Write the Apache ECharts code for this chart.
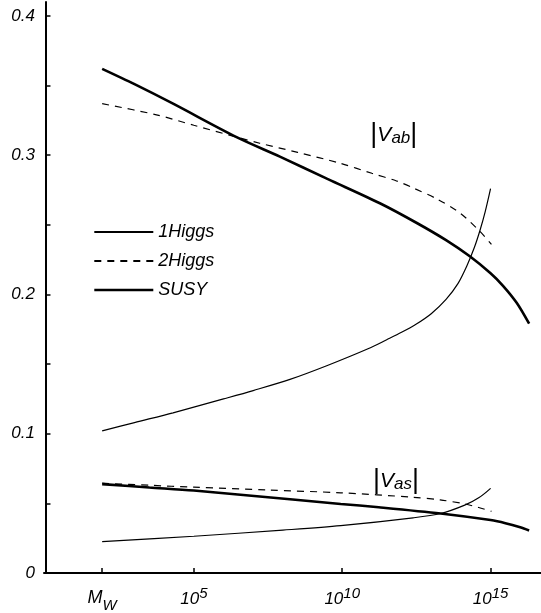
<!DOCTYPE html>
<html>
<head>
<meta charset="utf-8">
<script src="https://cdn.jsdelivr.net/npm/echarts@6/dist/echarts.min.js"></script>
<style>
  html, body { margin: 0; padding: 0; background: #fff; }
  #chart { width: 541px; height: 613px; }
</style>
</head>
<body>
<div id="chart"></div>
<script>
// x values are log10(energy / GeV); M_W ~ 10^1.91
const xTicks = [1.91, 5, 10, 15];
const yMinorTicks = [0, 0.05, 0.1, 0.15, 0.2, 0.25, 0.3, 0.35, 0.4];
const yLabels = [0, 0.1, 0.2, 0.3, 0.4];

// |V_ab|
const higgs1AbExp = [1.91, 3, 4.3, 6, 7, 8.24, 9.5, 10.87, 11.5, 12.0, 12.5, 13.0, 13.5, 13.9, 14.2, 14.45, 14.65, 14.82, 15.0];
const higgs1Ab    = [0.102, 0.108, 0.115, 0.125, 0.131, 0.139, 0.149, 0.161, 0.1675, 0.1728, 0.1788, 0.1862, 0.1965, 0.2078, 0.2205, 0.2335, 0.2465, 0.2595, 0.276];
const higgs2AbExp = [1.91, 3.74, 5, 6.44, 7.22, 8.5, 9.92, 11.0, 11.83, 12.39, 13.2, 13.97, 14.64, 15.03];
const higgs2Ab    = [0.337, 0.329, 0.3215, 0.313, 0.3086, 0.302, 0.2943, 0.287, 0.2815, 0.2765, 0.2685, 0.2585, 0.2453, 0.236];
const susyAbExp   = [1.91, 3, 4.3, 6.44, 7.9, 9.5, 11.27, 12.5, 13.5, 14.3, 15.0, 15.42, 15.88, 16.3];
const susyAb      = [0.362, 0.351, 0.337, 0.313, 0.299, 0.283, 0.2655, 0.2515, 0.239, 0.2274, 0.2152, 0.2062, 0.194, 0.179];

// |V_as|
const higgs1AsExp = [1.91, 5, 8, 9.95, 12.39, 13.32, 14.13, 14.6, 15.0];
const higgs1As    = [0.0225, 0.0264, 0.0308, 0.034, 0.0396, 0.0427, 0.0487, 0.054, 0.0608];
const higgs2AsExp = [1.91, 3.5, 5, 7.5, 9.95, 12.39, 13.3, 14.13, 14.6, 15.03];
const higgs2As    = [0.0645, 0.063, 0.0616, 0.0596, 0.0576, 0.0544, 0.0525, 0.0496, 0.047, 0.0443];
const susyAsExp   = [1.91, 3.5, 5, 8.33, 9.95, 11.23, 13.32, 15.0, 15.5, 16.0, 16.3];
const susyAs      = [0.0638, 0.0614, 0.0592, 0.0528, 0.0496, 0.0472, 0.0427, 0.038, 0.0358, 0.0328, 0.0305];

// label anchors (data coords)
const labelAb = [11.74, 0.3146];
const labelAs = [11.81, 0.0661];

const FONT = '"Liberation Sans", Arial, sans-serif';

function pairs(xs, ys) {
    return xs.map(function (x, i) { return [x, ys[i]]; });
}

function line(name, data, width, dashed) {
    return {
        name: name,
        type: 'line',
        data: data,
        symbol: 'none',
        smooth: 0.3,
        silent: true,
        itemStyle: { color: '#000' },
        lineStyle: {
            color: '#000',
            width: width,
            type: dashed ? [7, 6] : 'solid'
        }
    };
}

const chart = echarts.init(document.getElementById('chart'));
chart.setOption({
    animation: false,
    backgroundColor: '#fff',
    grid: { left: 44, right: 0, top: 2, bottom: 39, containLabel: false },
    legend: {
        data: [
            { name: '1Higgs' },
            { name: '2Higgs' },
            { name: 'SUSY', lineStyle: { width: 2.6 } }
        ],
        orient: 'vertical',
        left: 93,
        top: 223,
        padding: 0,
        itemWidth: 59,
        itemHeight: 14,
        itemGap: 11,
        selectedMode: false,
        itemStyle: { opacity: 0 },
        textStyle: { color: '#000', fontFamily: FONT, fontStyle: 'italic', fontSize: 18 }
    },
    xAxis: {
        type: 'value',
        min: -0.05,
        max: 16.7,
        splitLine: { show: false },
        axisLine: { lineStyle: { color: '#000', width: 2 } },
        axisTick: { inside: true, length: 5, customValues: xTicks, lineStyle: { color: '#000', width: 1.5 } },
        axisLabel: {
            customValues: xTicks,
            margin: 13,
            color: '#000',
            formatter: function (v) {
                if (Math.abs(v - 1.91) < 0.01) return '{m|M}{w|W}';
                return '{b|10}{s|' + Math.round(v) + '}';
            },
            rich: {
                b: { fontFamily: FONT, fontStyle: 'italic', fontSize: 17, color: '#000' },
                s: { fontFamily: FONT, fontStyle: 'italic', fontSize: 15, color: '#000', padding: [0, 0, 12, 0] },
                m: { fontFamily: FONT, fontStyle: 'italic', fontSize: 18, color: '#000', padding: [0, 0, 4, 0] },
                w: { fontFamily: FONT, fontStyle: 'italic', fontSize: 15, color: '#000', padding: [12, 0, 0, 0] }
            }
        }
    },
    yAxis: {
        type: 'value',
        min: 0,
        max: 0.41,
        splitLine: { show: false },
        axisLine: { show: true, lineStyle: { color: '#000', width: 2 } },
        axisTick: { show: true, inside: true, length: 5, customValues: yMinorTicks, lineStyle: { color: '#000', width: 1.5 } },
        axisLabel: {
            customValues: yLabels,
            margin: 9,
            color: '#000',
            fontFamily: FONT,
            fontStyle: 'italic',
            fontSize: 17
        }
    },
    series: [
        line('1Higgs', pairs(higgs1AbExp, higgs1Ab), 1.2, false),
        line('2Higgs', pairs(higgs2AbExp, higgs2Ab), 1.2, true),
        line('SUSY', pairs(susyAbExp, susyAb), 2.6, false),
        line('1Higgs', pairs(higgs1AsExp, higgs1As), 1.2, false),
        line('2Higgs', pairs(higgs2AsExp, higgs2As), 1.2, true),
        line('SUSY', pairs(susyAsExp, susyAs), 2.6, false)
    ]
});

function vLabel(pos, sub) {
    const p = chart.convertToPixel({ gridIndex: 0 }, pos);
    return {
        type: 'text',
        x: p[0],
        y: p[1],
        silent: true,
        style: {
            text: '{bar|\u007C}{v|V}{s|' + sub + '}{bar|\u007C}',
            align: 'center',
            verticalAlign: 'middle',
            rich: {
                bar: { fontFamily: FONT, fontSize: 27, fill: '#000' },
                v: { fontFamily: FONT, fontStyle: 'italic', fontSize: 21, fill: '#000' },
                s: { fontFamily: FONT, fontStyle: 'italic', fontSize: 17, fill: '#000', padding: [7, 0, 0, 0] }
            }
        }
    };
}

chart.setOption({
    graphic: [vLabel(labelAb, 'ab'), vLabel(labelAs, 'as')]
});
</script>
</body>
</html>
